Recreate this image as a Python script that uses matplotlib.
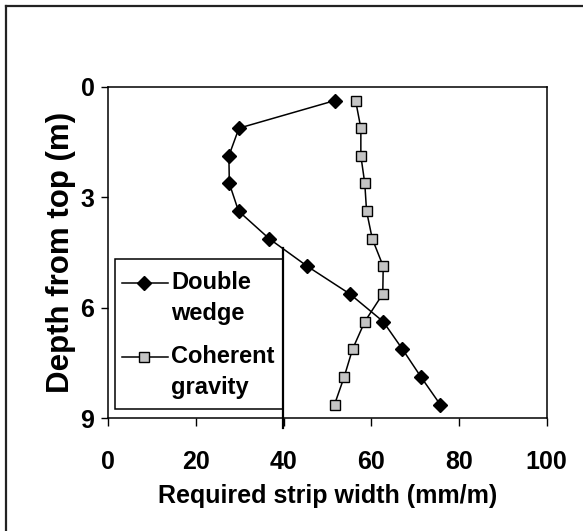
import matplotlib
matplotlib.use("Agg")
import matplotlib.pyplot as plt
from matplotlib.lines import Line2D
from matplotlib.patches import Rectangle

# data
depth = [0.375, 1.125, 1.875, 2.625, 3.375, 4.125, 4.875, 5.625, 6.375, 7.125, 7.875, 8.625]
double_wedge = [51.7, 29.8, 27.5, 27.6, 29.7, 36.7, 45.4, 55.1, 62.7, 67.1, 71.3, 75.7]
coherent_gravity = [56.4, 57.6, 57.6, 58.5, 58.9, 60.2, 62.7, 62.6, 58.5, 55.7, 53.8, 51.6]
xticks = [0, 20, 40, 60, 80, 100]
yticks = [0, 3, 6, 9]
labels = ["Double\nwedge", "Coherent\ngravity"]

plt.rcParams["font.family"] = ["Liberation Sans", "DejaVu Sans"]
plt.rcParams["font.weight"] = "bold"

fig = plt.figure(figsize=(5.83, 5.31), dpi=100)
ax = fig.add_axes([0.1858, 0.2122, 0.752, 0.6245])

dw_style = dict(color="black", lw=1.1, marker="D", ms=7, mfc="black", mec="black")
cg_style = dict(color="black", lw=1.1, marker="s", ms=7.5, mfc="#c4c4c4", mec="black", mew=1.0)

ax.plot(double_wedge, depth, **dw_style)
ax.plot(coherent_gravity, depth, **cg_style)

ax.set_xlim(0, 100)
ax.set_ylim(9, 0)
ax.set_xticks(xticks)
ax.set_yticks(yticks)
ax.tick_params(axis="x", direction="out", length=6, width=1, labelsize=18, pad=17)
ax.tick_params(axis="y", direction="out", length=5, width=1, labelsize=18, pad=5)
for s in ax.spines.values():
    s.set_linewidth(1.1)
ax.set_xlabel("Required strip width (mm/m)", fontsize=18, fontweight="bold", labelpad=7)
ax.set_ylabel("Depth from top (m)", fontsize=22.5, fontweight="bold", labelpad=3)

# hand made legend, handle sits on the first line of each label
ax.add_patch(Rectangle((0.015, 0.028), 0.383, 0.453, transform=ax.transAxes,
                       fill=True, fc="white", ec="black", lw=1.1, zorder=5))
ax.add_line(Line2D([0.398, 0.398], [0.514, -0.029], transform=ax.transAxes,
                   color="black", lw=1.6, clip_on=False, zorder=6))
rows = [(0.408, dw_style, labels[0]), (0.185, cg_style, labels[1])]
for y, st, lab in rows:
    ax.add_line(Line2D([0.031, 0.136], [y, y], transform=ax.transAxes, zorder=7,
                       **{k: v for k, v in st.items() if k != "marker"}))
    ax.add_line(Line2D([0.082], [y], transform=ax.transAxes, zorder=8, ls="none",
                       **{k: v for k, v in st.items() if k != "lw"}))
    ax.text(0.143, y + 0.035, lab, transform=ax.transAxes, fontsize=17, fontweight="bold",
            va="top", ha="left", linespacing=1.4, zorder=8)

# figure border (only top and left edges show)
fig.add_artist(Line2D([6 / 583, 6 / 583], [0, 1 - 6 / 531], transform=fig.transFigure, color="#222222", lw=1.6))
fig.add_artist(Line2D([6 / 583, 1], [1 - 6 / 531, 1 - 6 / 531], transform=fig.transFigure, color="#222222", lw=1.6))

fig.savefig("out.png", dpi=100)
